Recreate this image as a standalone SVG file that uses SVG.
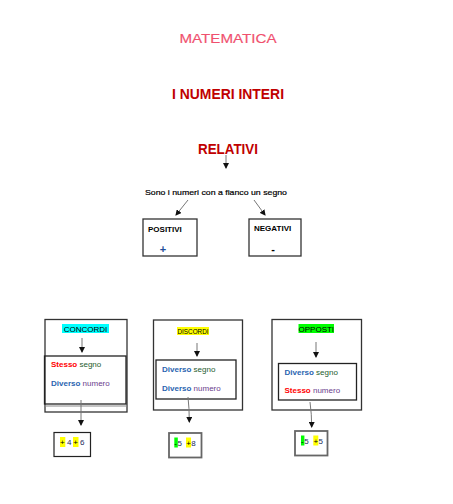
<svg xmlns="http://www.w3.org/2000/svg" width="453" height="504" viewBox="0 0 453 504">
<defs>
<marker id="ah" markerUnits="userSpaceOnUse" markerWidth="6" markerHeight="6" refX="5" refY="3" orient="auto">
<path d="M0,0 L6,3 L0,6 z" fill="#111"/>
</marker>
<style>
text{font-family:"Liberation Sans",Arial,sans-serif;}
.title{font-weight:bold;fill:#c00000;font-size:15px;text-anchor:middle;}
.box{fill:none;stroke:#333;stroke-width:1.3;}
.inner{fill:none;stroke:#222;stroke-width:1.3;}
.res{fill:none;stroke:#666;stroke-width:1.8;}
.lbl{font-size:8px;fill:#000;}
.b{font-weight:bold;}
.conn line,.conn path{stroke:#777;stroke-width:1;fill:none;marker-end:url(#ah);}
.red{fill:#ff0000;font-weight:bold;}
.blue{fill:#2a64b0;font-weight:bold;}
.grn{fill:#1e5c2e;}
.pur{fill:#6a3d8c;}
.num{fill:#1a2a5a;}
</style>
</defs>
<rect width="453" height="504" fill="#fff"/>

<g id="titolo">
<text x="228" y="43" font-size="12" fill="#f0506e" stroke="#f0506e" stroke-width="0.15" text-anchor="middle" textLength="97" lengthAdjust="spacingAndGlyphs">MATEMATICA</text>
</g>
<g id="numeri-interi">
<text class="title" x="228" y="99" textLength="112" lengthAdjust="spacingAndGlyphs">I NUMERI INTERI</text>
</g>
<g id="relativi">
<text class="title" x="228" y="154" textLength="60" lengthAdjust="spacingAndGlyphs">RELATIVI</text>
</g>
<g id="definizione">
<text class="lbl" x="145" y="195" stroke="#000" stroke-width="0.2" textLength="142" lengthAdjust="spacingAndGlyphs">Sono i numeri con a fianco un segno</text>
</g>

<g id="positivi">
<rect class="box" x="143" y="219" width="54" height="37"/>
<text class="lbl b" x="148" y="232" font-size="8.5">POSITIVI</text>
<text x="163" y="253" font-size="11" font-weight="bold" fill="#1f4e9a" text-anchor="middle">+</text>
</g>
<g id="negativi">
<rect class="box" x="249" y="219" width="52" height="37"/>
<text class="lbl b" x="254" y="231" font-size="8.5">NEGATIVI</text>
<text x="273" y="253" font-size="11" font-weight="bold" fill="#000" text-anchor="middle">-</text>
</g>

<g id="concordi">
<rect class="box" x="45" y="319.5" width="82" height="92.5"/>
<line x1="45" y1="406" x2="127" y2="406" stroke="#888" stroke-width="1"/>
<rect x="62" y="324" width="47" height="9" fill="#00ffff"/>
<text class="lbl" x="85.5" y="331.5" text-anchor="middle">CONCORDI</text>
<rect class="inner" x="44.5" y="356" width="81.5" height="48"/>
<text class="lbl" x="51" y="366.5"><tspan class="red">Stesso</tspan> <tspan class="grn">segno</tspan></text>
<text class="lbl" x="51" y="385.5"><tspan class="blue">Diverso</tspan> <tspan class="pur">numero</tspan></text>
</g>
<g id="discordi">
<rect class="box" x="153.5" y="320" width="89" height="90"/>
<rect x="177" y="327" width="32" height="8" fill="#ffff00"/>
<text class="lbl" x="193" y="334" text-anchor="middle" textLength="31" lengthAdjust="spacingAndGlyphs">DISCORDI</text>
<rect class="inner" x="156" y="360" width="80" height="39"/>
<text class="lbl" x="162" y="371.5"><tspan class="blue">Diverso</tspan> <tspan class="grn">segno</tspan></text>
<text class="lbl" x="162" y="390.5"><tspan class="blue">Diverso</tspan> <tspan class="pur">numero</tspan></text>
</g>
<g id="opposti">
<rect class="box" x="272" y="319.5" width="89.5" height="90.5"/>
<rect x="298.5" y="324" width="35.5" height="9" fill="#00ff00"/>
<text class="lbl" x="316.3" y="331.5" text-anchor="middle">OPPOSTI</text>
<rect class="inner" x="278.5" y="363.5" width="78" height="36.5"/>
<text class="lbl" x="284.5" y="374.5"><tspan class="blue">Diverso</tspan> <tspan class="grn">segno</tspan></text>
<text class="lbl" x="284.5" y="393"><tspan class="red">Stesso</tspan> <tspan class="pur">numero</tspan></text>
</g>

<g id="esempio-concordi">
<rect x="54" y="432.5" width="36.5" height="24" fill="none" stroke="#222" stroke-width="1.2"/>
<rect x="60" y="437" width="5.3" height="10" fill="#ffff00"/>
<rect x="73" y="437" width="5.5" height="10" fill="#ffff00"/>
<text class="lbl" x="60" y="445"><tspan>+</tspan><tspan class="num" x="67">4</tspan><tspan x="73.3">+</tspan><tspan class="num" x="80">6</tspan></text>
</g>
<g id="esempio-discordi">
<rect class="res" x="169" y="433" width="32.5" height="24.5"/>
<rect x="174.3" y="437.5" width="3.5" height="10" fill="#00ff00"/>
<rect x="186" y="437.5" width="5" height="10" fill="#ffff00"/>
<text class="lbl" x="174.3" y="446"><tspan>-</tspan><tspan class="num" x="177.5">5</tspan><tspan x="186.2">+</tspan><tspan class="num" x="191.2">8</tspan></text>
</g>
<g id="esempio-opposti">
<rect class="res" x="295" y="431" width="32.5" height="24.5"/>
<rect x="301" y="435.5" width="3.4" height="10" fill="#00ff00"/>
<rect x="313.3" y="435.5" width="5" height="10" fill="#ffff00"/>
<text class="lbl" x="301" y="444"><tspan>-</tspan><tspan class="num" x="304.2">5</tspan><tspan x="313.5">+</tspan><tspan class="num" x="318.5">5</tspan></text>
</g>

<g id="connettori" class="conn">
<line x1="226" y1="155" x2="226" y2="168"/>
<line x1="188" y1="200" x2="176" y2="215"/>
<line x1="254" y1="200" x2="265" y2="215"/>
<line x1="82" y1="338" x2="82" y2="352"/>
<line x1="81" y1="400" x2="81" y2="425"/>
<line x1="197" y1="343" x2="197" y2="356"/>
<path d="M188,397 Q189.3,408 189.3,422"/>
<line x1="316" y1="342" x2="316" y2="357"/>
<path d="M310,402 Q311.7,414 311.7,427"/>
</g>
</svg>
